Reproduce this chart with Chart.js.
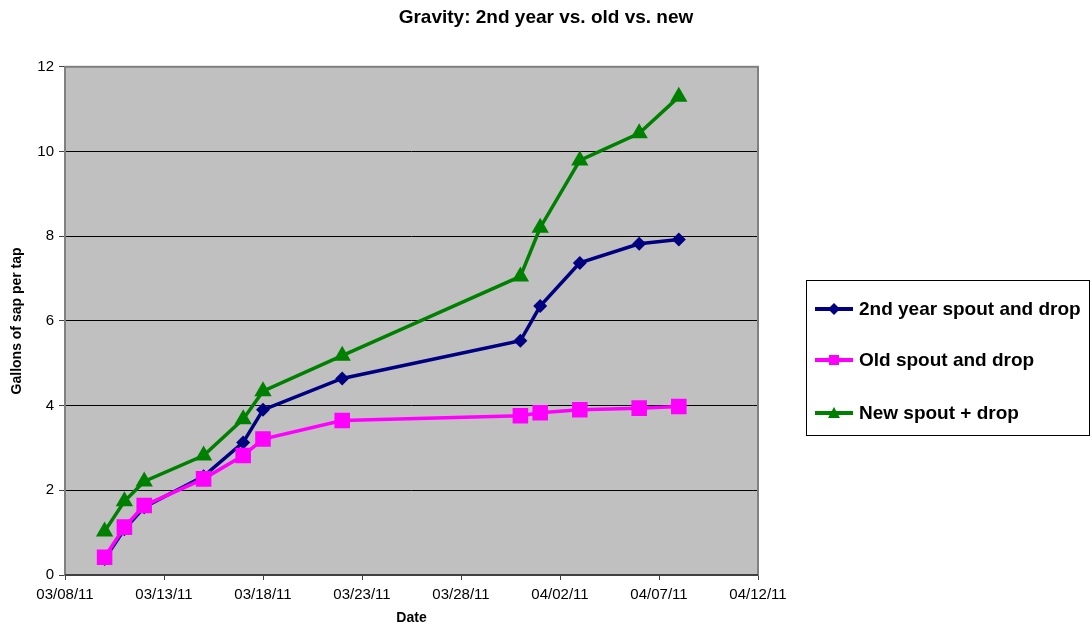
<!DOCTYPE html>
<html>
<head>
<meta charset="utf-8">
<script src="https://cdn.jsdelivr.net/npm/chart.js@4/dist/chart.umd.min.js"></script>
<style>
body { margin: 0; background: #fff; }
#wrap { position: relative; width: 1092px; height: 628px; }
#legend { position: absolute; left: 806px; top: 280px; width: 282px; height: 154px; border: 1px solid #000; background: #fff;
  font: bold 19px "Liberation Sans", Arial, sans-serif; color: #000; }
.item { position: absolute; left: 8px; height: 20px; display: flex; align-items: center; white-space: nowrap; }
.item canvas { margin-right: 6px; }
</style>
</head>
<body>
<div id="wrap">
  <canvas id="myChart" width="1092" height="628"></canvas>
  <div id="legend"></div>
</div>
<script>
// readings from the chart
const dates = ['03/10/11', '03/11/11', '03/12/11', '03/15/11', '03/17/11', '03/18/11',
               '03/22/11', '03/31/11', '04/01/11', '04/03/11', '04/06/11', '04/08/11'];
const secondYear = [0.38, 1.08, 1.60, 2.33, 3.13, 3.90, 4.64, 5.53, 6.35, 7.37, 7.82, 7.92];
const oldSpout   = [0.42, 1.13, 1.64, 2.27, 2.82, 3.21, 3.65, 3.76, 3.83, 3.90, 3.94, 3.98];
const newSpout   = [1.03, 1.74, 2.21, 2.82, 3.68, 4.34, 5.18, 7.05, 8.20, 9.79, 10.43, 11.29];
const seriesNames = ['2nd year spout and drop', 'Old spout and drop', 'New spout + drop'];
const xRange = ['03/08/11', '04/12/11']; // axis from / to, tick every 5 days
const yTicks = [0, 2, 4, 6, 8, 10, 12];

const font = '"Liberation Sans", Arial, sans-serif';

function dayNum(s) {
    const [m, d, y] = s.split('/').map(Number);
    return Date.UTC(2000 + y, m - 1, d) / 86400000;
}
const day0 = dayNum(xRange[0]);
const pad = n => String(n).padStart(2, '0');
function dayLabel(v) {
    const dt = new Date((day0 + v) * 86400000);
    return pad(dt.getUTCMonth() + 1) + '/' + pad(dt.getUTCDate()) + '/' + String(dt.getUTCFullYear()).slice(2);
}
const xs = dates.map(s => dayNum(s) - day0);
const pts = vals => vals.map((v, i) => ({ x: xs[i], y: v }));

const styles = [
    { color: '#000080', point: 'rectRot', r: 7, order: 3 },
    { color: '#FF00FF', point: 'rect', r: 11, order: 2 },
    { color: '#008000', point: 'triangle', r: 10, order: 1 }
];
const values = [secondYear, oldSpout, newSpout];

const plotBg = {
    id: 'plotBg',
    beforeDraw(chart) {
        const { ctx, chartArea: a } = chart;
        ctx.save();
        ctx.fillStyle = '#c0c0c0';
        ctx.fillRect(a.left, a.top, a.width, a.height);
        ctx.restore();
    },
    beforeDatasetsDraw(chart) {
        const { ctx, chartArea: a } = chart;
        ctx.save();
        ctx.strokeStyle = '#808080';
        ctx.lineWidth = 2;
        ctx.strokeRect(a.left, a.top, a.width, a.height);
        ctx.beginPath();
        ctx.strokeStyle = '#404040';
        ctx.moveTo(a.left, a.bottom);
        ctx.lineTo(a.right, a.bottom);
        ctx.stroke();
        ctx.restore();
    }
};

const ctx = document.getElementById('myChart').getContext('2d');
new Chart(ctx, {
    type: 'line',
    data: {
        datasets: values.map((v, i) => ({
            label: seriesNames[i],
            data: pts(v),
            borderColor: styles[i].color,
            backgroundColor: styles[i].color,
            pointBackgroundColor: styles[i].color,
            pointBorderColor: styles[i].color,
            pointBorderWidth: 0,
            pointStyle: styles[i].point,
            pointRadius: styles[i].r,
            borderWidth: 3.5,
            tension: 0,
            order: styles[i].order
        }))
    },
    options: {
        responsive: false,
        animation: false,
        layout: { padding: 0 },
        scales: {
            x: {
                type: 'linear',
                min: 0,
                max: dayNum(xRange[1]) - day0,
                afterFit(scale) { scale.height = 53; },
                grid: { drawOnChartArea: false, tickLength: 5, tickColor: '#404040', lineWidth: 1 },
                border: { display: false },
                ticks: {
                    stepSize: 5,
                    autoSkip: false,
                    maxRotation: 0,
                    padding: 6,
                    color: '#000',
                    font: { family: font, size: 15 },
                    callback: v => dayLabel(v)
                },
                title: { display: true, text: 'Date', color: '#000', font: { family: font, size: 14, weight: 'bold' }, padding: { top: 0, bottom: 1 } }
            },
            y: {
                min: yTicks[0],
                max: yTicks[yTicks.length - 1],
                afterFit(scale) { scale.width = 65; },
                afterBuildTicks(scale) { scale.ticks = yTicks.map(v => ({ value: v })); },
                grid: {
                    color: c => (c.tick && (c.tick.value === 0 || c.tick.value === 12)) ? 'rgba(0,0,0,0)' : '#000',
                    tickColor: '#404040',
                    tickLength: 6,
                    lineWidth: 1
                },
                border: { display: false },
                ticks: { padding: 5, color: '#000', font: { family: font, size: 15 } },
                title: { display: true, text: 'Gallons of sap per tap', color: '#000', font: { family: font, size: 14, weight: 'bold' }, padding: { top: 9, bottom: 0 } }
            },
            // empty space on the right where the legend box sits
            side: {
                position: 'right',
                min: 0,
                max: 1,
                afterFit(scale) { scale.width = 334; },
                grid: { display: false },
                border: { display: false },
                ticks: { display: false }
            }
        },
        plugins: {
            legend: { display: false },
            tooltip: { enabled: false },
            title: {
                display: true,
                text: 'Gravity: 2nd year vs. old vs. new',
                color: '#000',
                font: { family: font, size: 19, weight: 'bold' },
                padding: { top: 6, bottom: 38 }
            }
        }
    },
    plugins: [plotBg]
});

// legend box, Excel style: line with marker, then name
const legend = document.getElementById('legend');
const rowTops = [18, 69, 122];
seriesNames.forEach((name, i) => {
    const row = document.createElement('div');
    row.className = 'item';
    row.style.top = rowTops[i] + 'px';
    const sw = document.createElement('canvas');
    sw.width = 38; sw.height = 20;
    const c = sw.getContext('2d');
    c.strokeStyle = c.fillStyle = styles[i].color;
    c.lineWidth = 4;
    c.beginPath(); c.moveTo(0, 10); c.lineTo(38, 10); c.stroke();
    c.beginPath();
    if (styles[i].point === 'rectRot') {
        c.moveTo(19, 4); c.lineTo(25, 10); c.lineTo(19, 16); c.lineTo(13, 10);
    } else if (styles[i].point === 'rect') {
        c.rect(14, 5, 10, 10);
    } else {
        c.moveTo(19, 4); c.lineTo(25, 15); c.lineTo(13, 15);
    }
    c.closePath(); c.fill();
    row.appendChild(sw);
    row.appendChild(document.createTextNode(name));
    legend.appendChild(row);
});
</script>
</body>
</html>
